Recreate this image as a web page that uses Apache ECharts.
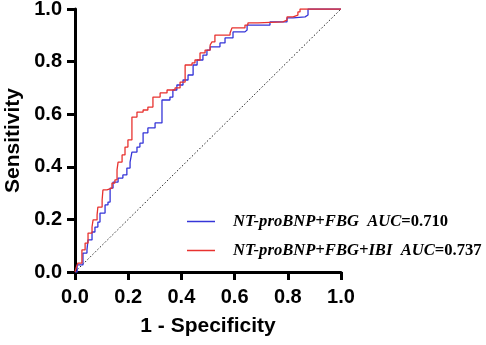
<!DOCTYPE html>
<html>
<head>
<meta charset="utf-8">
<script src="https://cdn.jsdelivr.net/npm/echarts@6/dist/echarts.min.js"></script>
<style>html,body{margin:0;padding:0;background:#fff;}#c{width:486px;height:345px;}</style>
</head>
<body>
<div id="c"></div>
<script>
const xTicks = [0, 0.2, 0.4, 0.6, 0.8, 1.0];
const seriesNames = ['NT-proBNP+FBG', 'NT-proBNP+FBG+IBI'];
const aucValues = ['0.710', '0.737'];

const blueFpr = [0, 0.008, 0.030, 0.045, 0.049, 0.064, 0.075, 0.086, 0.094, 0.113, 0.124, 0.132, 0.143, 0.162, 0.180, 0.195, 0.207, 0.214, 0.233, 0.244, 0.256, 0.274, 0.301, 0.327, 0.357, 0.368, 0.383, 0.406, 0.425, 0.444, 0.459, 0.481, 0.496, 0.508, 0.545, 0.564, 0.594, 0.639, 0.647, 0.733, 0.797, 0.820, 0.865, 0.876, 1.0];
const blueTpr = [0, 0.027, 0.072, 0.084, 0.122, 0.152, 0.171, 0.190, 0.224, 0.255, 0.266, 0.319, 0.342, 0.357, 0.369, 0.395, 0.418, 0.456, 0.475, 0.490, 0.529, 0.548, 0.567, 0.654, 0.665, 0.692, 0.711, 0.730, 0.749, 0.787, 0.806, 0.825, 0.844, 0.856, 0.871, 0.890, 0.913, 0.920, 0.939, 0.951, 0.966, 0.970, 0.977, 1.0, 1.0];

const redFpr = [0, 0.004, 0.011, 0.026, 0.038, 0.049, 0.064, 0.068, 0.083, 0.086, 0.102, 0.105, 0.120, 0.139, 0.150, 0.158, 0.162, 0.177, 0.188, 0.199, 0.214, 0.233, 0.256, 0.274, 0.293, 0.320, 0.346, 0.376, 0.395, 0.414, 0.440, 0.451, 0.470, 0.489, 0.508, 0.515, 0.526, 0.583, 0.590, 0.639, 0.650, 0.688, 0.782, 0.797, 0.820, 0.838, 0.846, 1.0];
const redTpr = [0, 0.015, 0.034, 0.084, 0.110, 0.148, 0.171, 0.198, 0.217, 0.247, 0.274, 0.312, 0.319, 0.338, 0.350, 0.388, 0.418, 0.445, 0.475, 0.502, 0.589, 0.608, 0.616, 0.627, 0.665, 0.681, 0.692, 0.700, 0.722, 0.787, 0.795, 0.806, 0.833, 0.844, 0.863, 0.875, 0.901, 0.909, 0.928, 0.939, 0.947, 0.951, 0.958, 0.970, 0.977, 0.989, 1.0, 1.0];

const refLine = [[0, 0], [1, 1]];

const zip = (a, b) => a.map((v, i) => [v, b[i]]);

const chart = echarts.init(document.getElementById('c'), null, {renderer: 'canvas'});
const sans = 'Liberation Sans, Arial, sans-serif';
const serif = 'Liberation Serif, Times New Roman, serif';
const axisCommon = {
  type: 'value', min: 0, max: 1, interval: 0.2,
  axisLine: {show: true, lineStyle: {color: '#000', width: 3}},
  axisTick: {show: true, inside: false, length: 8, lineStyle: {color: '#000', width: 3}},
  splitLine: {show: false},
  axisLabel: {color: '#000', fontFamily: sans, fontWeight: 'bold', fontSize: 20, formatter: v => v.toFixed(1)}
};
chart.setOption({
  animation: false,
  backgroundColor: '#fff',
  grid: {left: 75, right: 145, top: 9, bottom: 73, containLabel: false, outerBoundsMode: 'none'},
  xAxis: Object.assign({}, axisCommon, {
    name: '1 - Specificity', nameLocation: 'middle', nameGap: 44,
    nameTextStyle: {color: '#000', fontFamily: sans, fontWeight: 'bold', fontSize: 21},
    axisLabel: Object.assign({}, axisCommon.axisLabel, {margin: 15})
  }),
  yAxis: Object.assign({}, axisCommon, {
    name: 'Sensitivity', nameLocation: 'middle', nameGap: 50,
    nameTextStyle: {color: '#000', fontFamily: sans, fontWeight: 'bold', fontSize: 21},
    axisLabel: Object.assign({}, axisCommon.axisLabel, {margin: 13})
  }),
  legend: {
    orient: 'vertical', left: 182, top: 208, itemWidth: 28, itemHeight: 1.5, itemGap: 12,
    icon: 'rect',
    data: seriesNames,
    formatter: name => {
      const i = seriesNames.indexOf(name);
      return '{s|}{i|' + name + '  AUC}{n|=' + aucValues[i] + '}';
    },
    textStyle: {
      color: '#000',
      rich: {
        s: {width: 13},
        i: {fontFamily: serif, fontStyle: 'italic', fontWeight: 'bold', fontSize: 16.6, color: '#000', lineHeight: 18},
        n: {fontFamily: serif, fontWeight: 'bold', fontSize: 16.6, color: '#000', lineHeight: 18}
      }
    }
  },
  series: [
    {
      type: 'line', name: 'ref', data: refLine, symbol: 'none', silent: true,
      lineStyle: {color: '#222', width: 1, type: [1.5, 2]}
    },
    {
      type: 'line', name: seriesNames[0], data: zip(blueFpr, blueTpr), step: 'end', symbol: 'none',
      lineStyle: {color: '#3535d8', width: 1.3}, itemStyle: {color: '#3535d8'}
    },
    {
      type: 'line', name: seriesNames[1], data: zip(redFpr, redTpr), step: 'end', symbol: 'none',
      lineStyle: {color: '#e8322f', width: 1.3}, itemStyle: {color: '#e8322f'}
    }
  ]
});
</script>
</body>
</html>
